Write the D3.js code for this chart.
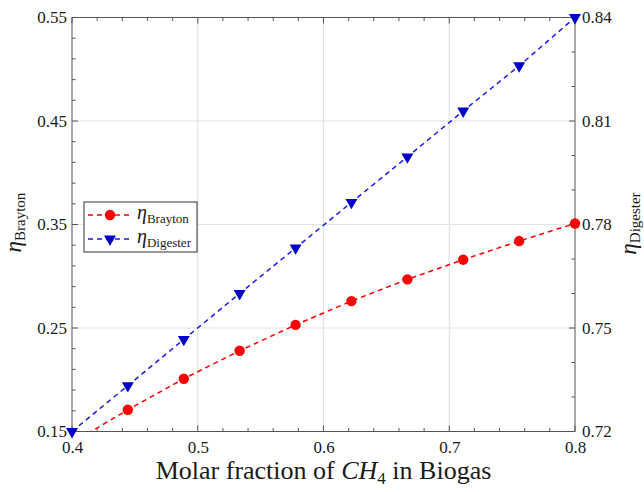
<!DOCTYPE html>
<html><head><meta charset="utf-8">
<script src="https://cdn.jsdelivr.net/npm/d3@7"></script>
<style>body{margin:0;background:#fff}svg{display:block}svg text{font-family:'Liberation Serif','DejaVu Serif',serif !important;fill:#1a1a1a}</style>
</head><body>
<script>
const xValues = [0.4, 0.4444, 0.4889, 0.5333, 0.5778, 0.6222, 0.6667, 0.7111, 0.7556, 0.8];
const brayton = [0.139, 0.171, 0.201, 0.228, 0.253, 0.276, 0.297, 0.316, 0.334, 0.351];
const digester = [0.72, 0.7333, 0.7467, 0.76, 0.7732, 0.7864, 0.7996, 0.8129, 0.826, 0.84];
const xTicks = [0.4, 0.5, 0.6, 0.7, 0.8];
const leftTicks = [0.15, 0.25, 0.35, 0.45, 0.55];
const rightTicks = [0.72, 0.75, 0.78, 0.81, 0.84];

const W = 644, H = 492;
const L = 72, R = 575, T = 17.5, B = 431.5;
const svg = d3.select("body").append("svg").attr("width", W).attr("height", H);

const x = d3.scaleLinear().domain([0.4, 0.8]).range([L, R]);
const yL = d3.scaleLinear().domain([0.15, 0.55]).range([B, T]);
const yR = d3.scaleLinear().domain([0.72, 0.84]).range([B, T]);

const red = "#ff0000", blueLine = "#1a1ae6", blueMark = "#0000c8";
const axisCol = "#555";

// gridlines
const grid = svg.append("g").attr("stroke", "#e3e3e3").attr("stroke-width", 1.2);
xTicks.slice(1, -1).forEach(v => grid.append("line").attr("x1", x(v)).attr("x2", x(v)).attr("y1", T).attr("y2", B));
leftTicks.slice(1, -1).forEach(v => grid.append("line").attr("x1", L).attr("x2", R).attr("y1", yL(v)).attr("y2", yL(v)));

// axes with inward ticks
const minorX = d3.range(0.4, 0.8001, 0.02);
const minorL = d3.range(0.15, 0.5501, 0.02);
const minorR = d3.range(0.72, 0.8401, 0.01);
const ax = svg.append("g").attr("stroke", axisCol).attr("stroke-width", 1);
ax.append("rect").attr("x", L).attr("y", T).attr("width", R - L).attr("height", B - T).attr("fill", "none");
function tick(x1, y1, x2, y2) { ax.append("line").attr("x1", x1).attr("y1", y1).attr("x2", x2).attr("y2", y2); }
minorX.forEach(v => { const big = xTicks.some(t => Math.abs(t - v) < 1e-6); const l = big ? 6 : 3.5; tick(x(v), B, x(v), B - l); tick(x(v), T, x(v), T + l); });
minorL.forEach(v => { const big = leftTicks.some(t => Math.abs(t - v) < 1e-6); const l = big ? 6 : 3.5; tick(L, yL(v), L + l, yL(v)); });
minorR.forEach(v => { const big = rightTicks.some(t => Math.abs(t - v) < 1e-6); const l = big ? 6 : 3.5; tick(R, yR(v), R - l, yR(v)); });

// tick labels via d3 axes (no tick lines drawn)
const fs = 17;
const gx = svg.append("g").attr("transform", `translate(0,${B})`)
  .call(d3.axisBottom(x).tickValues(xTicks).tickFormat(d3.format(".1f")).tickSize(0).tickPadding(9));
const gl = svg.append("g").attr("transform", `translate(${L},0)`)
  .call(d3.axisLeft(yL).tickValues(leftTicks).tickFormat(d3.format(".2f")).tickSize(0).tickPadding(5));
const gr = svg.append("g").attr("transform", `translate(${R},0)`)
  .call(d3.axisRight(yR).tickValues(rightTicks).tickFormat(d3.format(".2f")).tickSize(0).tickPadding(7));
[gx, gl, gr].forEach(g => { g.attr("font-family", null); g.select(".domain").remove(); g.selectAll("text").attr("font-size", fs).attr("fill", "#1a1a1a"); });
gx.selectAll("text").attr("dy", "0.71em");

// clip
svg.append("clipPath").attr("id", "clip").append("rect").attr("x", L).attr("y", T).attr("width", R - L).attr("height", B - T);

const pts = xValues.map((v, i) => ({ x: v, b: brayton[i], d: digester[i] }));
const lineB = d3.line().x(d => x(d.x)).y(d => yL(d.b));
const lineD = d3.line().x(d => x(d.x)).y(d => yR(d.d));

svg.append("path").datum(pts).attr("d", lineB).attr("clip-path", "url(#clip)")
  .attr("fill", "none").attr("stroke", red).attr("stroke-width", 1.5).attr("stroke-dasharray", "5,4");
svg.append("path").datum(pts).attr("d", lineD).attr("clip-path", "url(#clip)")
  .attr("fill", "none").attr("stroke", blueLine).attr("stroke-width", 1.5).attr("stroke-dasharray", "5,4");

svg.append("g").selectAll("circle").data(pts.filter(d => d.b >= 0.15 && d.b <= 0.55)).join("circle")
  .attr("cx", d => x(d.x)).attr("cy", d => yL(d.b)).attr("r", 5.2).attr("fill", red);
const tri = d3.symbol().type(d3.symbolTriangle).size(62);
svg.append("g").selectAll("path").data(pts).join("path")
  .attr("d", tri).attr("transform", d => `translate(${x(d.x)},${yR(d.d)}) rotate(180)`).attr("fill", blueMark);

// axis titles
const xt = svg.append("text").attr("x", (L + R) / 2).attr("y", 479).attr("text-anchor", "middle").attr("font-size", 26);
xt.append("tspan").text("Molar fraction of ");
xt.append("tspan").attr("font-style", "italic").text("CH");
xt.append("tspan").attr("font-size", 17).attr("dy", 5).text("4");
xt.append("tspan").attr("dy", -5).text(" in Biogas");

function etaLabel(g, sub, big, small) {
  const t = g.append("text").attr("text-anchor", "middle");
  t.append("tspan").attr("font-style", "italic").attr("font-size", big).text("η");
  t.append("tspan").attr("font-size", small).attr("dy", 4).text(sub);
  return t;
}
etaLabel(svg.append("g").attr("transform", `translate(21,${(T + B) / 2 - 2}) rotate(-90)`), "Brayton", 23, 15);
etaLabel(svg.append("g").attr("transform", `translate(636,${(T + B) / 2 - 1}) rotate(-90)`), "Digester", 23, 15);

// legend
const lg = svg.append("g");
lg.append("rect").attr("x", 84).attr("y", 202).attr("width", 113).attr("height", 50).attr("fill", "#fff").attr("stroke", "#333").attr("stroke-width", 1);
const rows = [{ c: red, m: "o", lab: "Brayton", y: 215 }, { c: blueLine, m: "v", lab: "Digester", y: 239 }];
rows.forEach(r => {
  lg.append("line").attr("x1", 88).attr("x2", 132).attr("y1", r.y).attr("y2", r.y).attr("stroke", r.c).attr("stroke-width", 1.5).attr("stroke-dasharray", "5,4");
  if (r.m === "o") lg.append("circle").attr("cx", 110).attr("cy", r.y).attr("r", 5.2).attr("fill", red);
  else lg.append("path").attr("d", tri).attr("transform", `translate(110,${r.y}) rotate(180)`).attr("fill", blueMark);
  const t = lg.append("text").attr("x", 137).attr("y", r.y + 4);
  t.append("tspan").attr("font-style", "italic").attr("font-size", 20).text("η");
  t.append("tspan").attr("font-size", 13).attr("dy", 4).text(r.lab);
});
</script>
</body></html>
